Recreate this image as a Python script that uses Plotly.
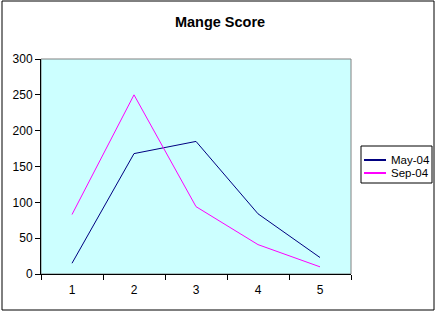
import plotly.graph_objects as go

# Chart data
categories = ["1", "2", "3", "4", "5"]
series_names = ["May-04", "Sep-04"]
may_04 = [15, 168, 185, 84, 23]
sep_04 = [83, 250, 94, 41, 10]
series_colors = ["#000080", "#FF00FF"]
y_ticks = [0, 50, 100, 150, 200, 250, 300]

W, H = 438, 313
# plot area in pixels
PL, PR, PT, PB = 41, 351, 59, 274
pw, ph = PR - PL, PB - PT


def px_x(x):
    return (x - PL) / pw


def px_y(y):
    return (PB - y) / ph


FONT = "Liberation Sans, Arial, sans-serif"

fig = go.Figure()
for name, vals, col in zip(series_names, [may_04, sep_04], series_colors):
    fig.add_trace(go.Scatter(
        x=categories, y=vals, mode="lines", name=name,
        line=dict(color=col, width=1), showlegend=False,
    ))

shapes = [
    # plot-area frame
    dict(type="rect", xref="paper", yref="paper", x0=0, x1=1, y0=0, y1=1,
         line=dict(color="#808080", width=1), layer="below"),
    # outer chart border
    dict(type="rect", xref="paper", yref="paper",
         x0=px_x(2), x1=px_x(434), y0=px_y(310), y1=px_y(1),
         line=dict(color="black", width=1)),
    # legend box
    dict(type="rect", xref="paper", yref="paper",
         x0=px_x(361), x1=px_x(432), y0=px_y(183), y1=px_y(146),
         line=dict(color="black", width=1), fillcolor="white"),
]
annotations = []
for i, (name, col) in enumerate(zip(series_names, series_colors)):
    yy = 160 + 13 * i
    shapes.append(dict(type="line", xref="paper", yref="paper",
                       x0=px_x(364), x1=px_x(386), y0=px_y(yy), y1=px_y(yy),
                       line=dict(color=col, width=2)))
    annotations.append(dict(xref="paper", yref="paper", x=px_x(389), y=px_y(yy),
                            xanchor="left", yanchor="middle", text=name,
                            showarrow=False,
                            font=dict(family=FONT, size=11.5, color="black")))

fig.update_layout(
    width=W, height=H,
    margin=dict(l=PL, r=W - PR, t=PT, b=H - PB),
    paper_bgcolor="white",
    plot_bgcolor="#CCFFFF",
    title=dict(text="<b>Mange Score</b>", x=220 / W, xref="container",
               xanchor="center", y=1 - 22 / H, yref="container", yanchor="middle",
               font=dict(family=FONT, size=14.5, color="black")),
    font=dict(family=FONT, size=12, color="black"),
    showlegend=False,
    shapes=shapes,
    annotations=annotations,
    xaxis=dict(type="category", categoryorder="array", categoryarray=categories,
               range=[-0.5, len(categories) - 0.5],
               tickson="boundaries", ticks="outside", ticklen=5, tickcolor="black",
               showline=True, linecolor="black", linewidth=1, showgrid=False,
               zeroline=False, ticklabelstandoff=5, fixedrange=True),
    yaxis=dict(range=[0, 300], tickvals=y_ticks, ticks="outside", ticklen=5,
               tickcolor="black", showline=True, linecolor="black", linewidth=1,
               showgrid=False, zeroline=False, fixedrange=True),
)

fig.write_html("out.html")
